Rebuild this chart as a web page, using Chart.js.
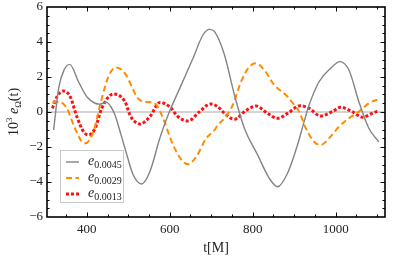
<!DOCTYPE html>
<html>
<head>
<meta charset="utf-8">
<script src="https://cdn.jsdelivr.net/npm/chart.js@4"></script>
<style>
html, body { margin: 0; padding: 0; background: #fff; }
#wrap { width: 415px; height: 258px; position: relative; }
</style>
</head>
<body>
<div id="wrap"><canvas id="c"></canvas></div>
<script>
// e = 0.0045 (gray)
var tGray = [320, 332, 345, 359, 380, 400, 420, 430, 448, 458, 468, 480, 492, 512, 532, 552, 576, 596, 624, 656, 680, 696, 708, 732, 756, 780, 812, 840, 860, 884, 908, 924, 936, 960, 988, 1010, 1032, 1056, 1080, 1104];
var eGray = [-1.03, 1.35, 2.4, 2.72, 1.73, 0.87, 0.5, 0.45, 0.55, 0.3, -0.17, -1.1, -2.07, -3.6, -4.11, -3.41, -1.5, -0.17, 1.35, 3.07, 4.4, 4.72, 4.59, 3.26, 0.97, -0.93, -2.46, -3.79, -4.27, -3.5, -1.89, -0.55, 0.4, 1.73, 2.5, 2.88, 2.4, 0.59, -0.93, -1.7];

// e = 0.0029 (orange)
var tOrange = [317, 332, 352, 368, 388, 396, 416, 432, 452, 470, 492, 512, 520, 536, 556, 568, 584, 608, 632, 644, 664, 688, 708, 716, 732, 752, 772, 792, 808, 828, 852, 880, 900, 912, 928, 948, 964, 984, 1008, 1032, 1056, 1080, 1104];
var eOrange = [0.55, 0.59, 0.21, -0.74, -1.7, -1.79, -1.12, 0.4, 2.02, 2.55, 2.21, 1.26, 0.87, 0.59, 0.55, 0.4, -0.36, -1.89, -2.84, -2.99, -2.55, -1.5, -1.03, -0.74, -0.36, 0.4, 1.73, 2.59, 2.78, 2.4, 1.54, 0.97, 0.4, 0.02, -0.93, -1.7, -1.89, -1.5, -0.84, -0.36, 0.02, 0.5, 0.74];

// e = 0.0013 (red)
var tRed = [317, 328, 344, 360, 376, 392, 404, 420, 436, 464, 492, 504, 512, 528, 552, 576, 600, 620, 644, 672, 698, 716, 732, 756, 780, 808, 836, 860, 884, 914, 936, 964, 992, 1012, 1040, 1064, 1088, 1104];
var eRed = [0.21, 0.87, 1.2, 0.87, -0.27, -1.12, -1.31, -0.93, 0.21, 1.03, 0.59, -0.17, -0.46, -0.69, -0.27, 0.55, 0.3, -0.27, -0.51, 0.02, 0.46, 0.3, -0.08, -0.42, 0.02, 0.34, -0.08, -0.36, -0.08, 0.36, 0.21, -0.23, 0.02, 0.27, 0.02, -0.3, -0.08, 0.07];

var xTicks = [400, 600, 800, 1000];
var yTicks = [-6, -4, -2, 0, 2, 4, 6];
var legendSubs = ["0.0045", "0.0029", "0.0013"];

function pts(ts, vs) {
    return ts.map(function (t, i) { return { x: t, y: vs[i] }; });
}

var serif = "'Liberation Serif', 'DejaVu Serif', serif";

var decor = {
    id: "decor",
    beforeDatasetsDraw: function (chart) {
        var ctx = chart.ctx, a = chart.chartArea;
        var y0 = chart.scales.y.getPixelForValue(0);
        ctx.save();
        ctx.strokeStyle = "#a8a8a8";
        ctx.lineWidth = 1;
        ctx.beginPath();
        ctx.moveTo(a.left, y0);
        ctx.lineTo(a.right, y0);
        ctx.stroke();
        ctx.restore();
    },
    afterDraw: function (chart) {
        var ctx = chart.ctx, a = chart.chartArea;
        var xs = chart.scales.x, ys = chart.scales.y;
        ctx.save();

        // inward ticks on all four sides
        ctx.strokeStyle = "#000";
        ctx.lineWidth = 1;
        ctx.beginPath();
        for (var t = 350; t <= 1100; t += 50) {
            var px = Math.round(xs.getPixelForValue(t)) + 0.5;
            var L = t % 200 === 0 ? 4.5 : 2.5;
            ctx.moveTo(px, a.bottom); ctx.lineTo(px, a.bottom - L);
            ctx.moveTo(px, a.top); ctx.lineTo(px, a.top + L);
        }
        for (var v = -5.5; v <= 5.5; v += 0.5) {
            var py = Math.round(ys.getPixelForValue(v)) + 0.5;
            var M = v % 2 === 0 ? 4.5 : 2.5;
            ctx.moveTo(a.left, py); ctx.lineTo(a.left + M, py);
            ctx.moveTo(a.right, py); ctx.lineTo(a.right - M, py);
        }
        ctx.stroke();

        // frame
        ctx.lineWidth = 1.6;
        ctx.strokeRect(a.left, a.top, a.right - a.left, a.bottom - a.top);

        // legend
        var bx = a.left + 13, by = a.top + 143, bw = 63, bh = 52;
        ctx.fillStyle = "#fff";
        ctx.fillRect(bx, by, bw, bh);
        ctx.strokeStyle = "#c8c8c8";
        ctx.lineWidth = 1;
        ctx.strokeRect(bx + 0.5, by + 0.5, bw, bh);
        chart.data.datasets.forEach(function (ds, i) {
            var ry = by + 12 + i * 16;
            ctx.save();
            ctx.strokeStyle = ds.borderColor;
            ctx.lineWidth = ds.borderWidth;
            ctx.setLineDash(ds.borderDash || []);
            ctx.beginPath();
            ctx.moveTo(bx + 6, ry);
            ctx.lineTo(bx + 19, ry);
            ctx.stroke();
            ctx.restore();
            ctx.fillStyle = "#222";
            ctx.textAlign = "left";
            ctx.textBaseline = "alphabetic";
            ctx.font = "italic 14px " + serif;
            ctx.fillText("e", bx + 28, ry + 3);
            var w = ctx.measureText("e").width;
            ctx.font = "10px " + serif;
            ctx.fillText(legendSubs[i], bx + 28 + w, ry + 6);
        });

        // y-axis title: 10^3 e_Ω(t)
        var parts = [
            { s: "10", f: "14px " + serif, dy: 0 },
            { s: "3", f: "9px " + serif, dy: -6 },
            { s: " ", f: "14px " + serif, dy: 0 },
            { s: "e", f: "italic 14px " + serif, dy: 0 },
            { s: "\u03A9", f: "9px " + serif, dy: 3 },
            { s: "(t)", f: "14px " + serif, dy: 0 }
        ];
        var total = 0;
        parts.forEach(function (p) { ctx.font = p.f; p.w = ctx.measureText(p.s).width; total += p.w; });
        ctx.translate(18, (a.top + a.bottom) / 2);
        ctx.rotate(-Math.PI / 2);
        ctx.fillStyle = "#222";
        var cx = -total / 2;
        parts.forEach(function (p) {
            ctx.font = p.f;
            ctx.fillText(p.s, cx, p.dy);
            cx += p.w;
        });
        ctx.restore();
    }
};

new Chart(document.getElementById("c").getContext("2d"), {
    type: "line",
    data: {
        datasets: [{
            data: pts(tGray, eGray),
            borderColor: "#848484",
            borderWidth: 1.4,
            pointRadius: 0,
            cubicInterpolationMode: "monotone"
        }, {
            data: pts(tOrange, eOrange),
            borderColor: "#ff8c00",
            borderWidth: 2,
            borderDash: [6, 3.5],
            pointRadius: 0,
            cubicInterpolationMode: "monotone"
        }, {
            data: pts(tRed, eRed),
            borderColor: "#ff1010",
            borderWidth: 3,
            borderDash: [3, 2],
            pointRadius: 0,
            cubicInterpolationMode: "monotone"
        }]
    },
    options: {
        responsive: true,
        maintainAspectRatio: false,
        animation: false,
        layout: { padding: { left: 0, right: 30, top: 7, bottom: 0 } },
        plugins: {
            legend: { display: false },
            tooltip: { enabled: false }
        },
        scales: {
            x: {
                type: "linear",
                min: 304,
                max: 1119,
                grid: { display: false, drawTicks: false },
                border: { display: false },
                afterBuildTicks: function (s) {
                    s.ticks = xTicks.map(function (v) { return { value: v }; });
                },
                ticks: {
                    autoSkip: false,
                    maxRotation: 0,
                    padding: 5,
                    color: "#222",
                    font: { family: serif, size: 13 },
                    callback: function (v) { return String(v); }
                },
                title: {
                    display: true,
                    text: "t[M]",
                    color: "#222",
                    font: { family: serif, size: 14 },
                    padding: { top: 0, bottom: 1 }
                },
                afterFit: function (s) {
                    s.height = 41;
                    s.paddingLeft = 0; s.paddingRight = 0;
                }
            },
            y: {
                min: -6,
                max: 6,
                grid: { display: false, drawTicks: false },
                border: { display: false },
                afterBuildTicks: function (s) {
                    s.ticks = yTicks.map(function (v) { return { value: v }; });
                },
                ticks: {
                    padding: 4,
                    color: "#222",
                    font: { family: serif, size: 13 },
                    callback: function (v) { return String(v).replace("-", "\u2212"); }
                },
                afterFit: function (s) {
                    s.width = 47;
                    s.paddingTop = 0; s.paddingBottom = 0;
                }
            }
        }
    },
    plugins: [decor]
});
</script>
</body>
</html>
